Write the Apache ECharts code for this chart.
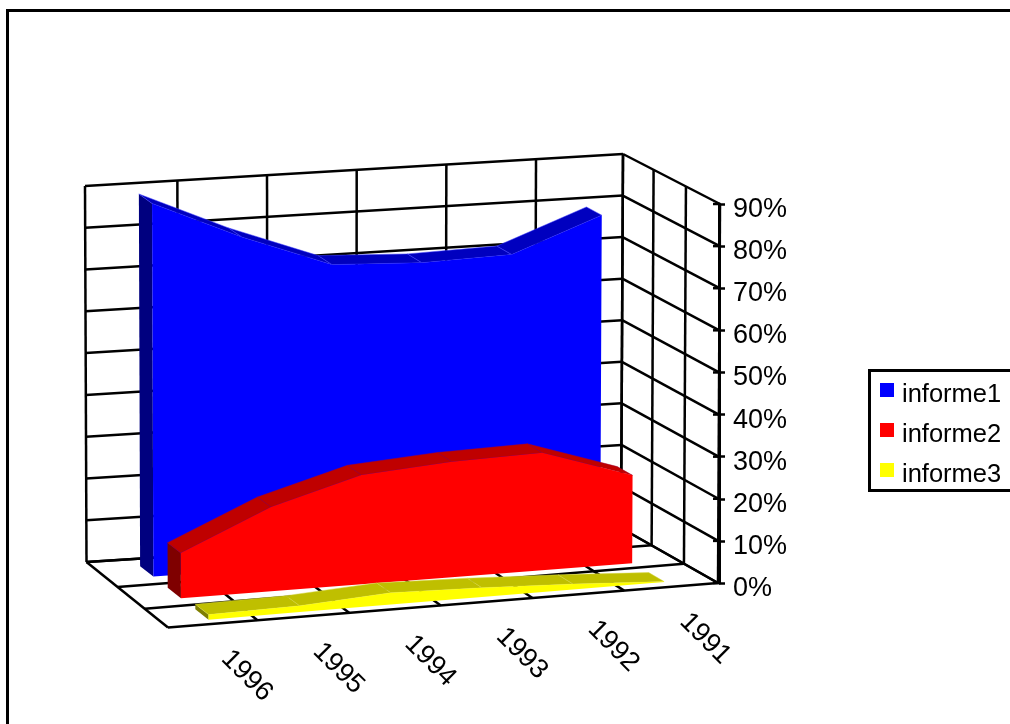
<!DOCTYPE html>
<html>
<head>
<meta charset="utf-8">
<script src="https://cdn.jsdelivr.net/npm/echarts@6/dist/echarts.min.js"></script>
<style>html,body{margin:0;padding:0;background:#fff}#c{width:1010px;height:724px}</style>
</head>
<body>
<div id="c"></div>
<script>
// --- data ---
var categories = ['1996', '1995', '1994', '1993', '1992', '1991'];
var informe1 = [89, 79.5, 71.5, 70.5, 71, 79];
var informe2 = [10.7, 20, 26, 27.5, 28, 21];
var informe3 = [1.2, 1.5, 2.8, 2.2, 1.3, 0.1];
var valueTicks = [0, 10, 20, 30, 40, 50, 60, 70, 80, 90];
var depthSlots = 3;

// --- projection of the 3D box: (c along years, f up the values, d towards viewer) ---
var FONT = '"Liberation Sans", Arial, sans-serif';
var BOX = {
  blb: [86.5, 562], blt: [85, 186], brb: [621, 528], brt: [623, 154],
  flb: [168, 627.5], flt: [166, 246], frb: [718, 583], frt: [720, 204]
};
function mix(a, b, t) { return [a[0] + (b[0] - a[0]) * t, a[1] + (b[1] - a[1]) * t]; }
function project(c, f, d) {
  var back = mix(mix(BOX.blb, BOX.brb, c), mix(BOX.blt, BOX.brt, c), f);
  var front = mix(mix(BOX.flb, BOX.frb, c), mix(BOX.flt, BOX.frt, c), f);
  return mix(back, front, d);
}
// small perspective corrections, one for the gridded box and one for the area slabs
function projectWall(c, f, d) {
  var d2 = d + 4 * d * (1 - d) * (0.055 * (1 - c) - 0.02 * c);
  var bump = Math.min(1, 6 * c, 6 * (1 - c));
  var c2 = c + bump * ((1 - d) * 0.005 - d * 0.004);
  return project(c2, f, d2);
}
function projectArea(c, f, d) { return project(c, f, d + 0.025 * (1 - c)); }
function norm(params, api, i, v) {
  var p = api.coord([i, v]), r = params.coordSys;
  return { c: (p[0] - r.x) / r.width, f: (r.y + r.height - p[1]) / r.height };
}
function segment(a, b, w) {
  return { type: 'line', shape: { x1: a[0], y1: a[1], x2: b[0], y2: b[1] },
    style: { stroke: '#000', lineWidth: w || 2.5 } };
}
function renderWalls(params, api) {
  var kids = [], n = categories.length, k, j;
  var fOf = function (v) { return norm(params, api, 0, v).f; };
  valueTicks.forEach(function (v) {
    var f = fOf(v);
    kids.push(segment(projectWall(0, f, 0), projectWall(1, f, 0)));
    kids.push(segment(projectWall(1, f, 0), projectWall(1, f, 1)));
  });
  var top = fOf(valueTicks[valueTicks.length - 1]), bottom = fOf(valueTicks[0]);
  for (k = 0; k <= n; k++) {
    kids.push(segment(projectWall(k / n, bottom, 0), projectWall(k / n, top, 0)));
    kids.push(segment(projectWall(k / n, bottom, 0), projectWall(k / n, bottom, 1)));
  }
  for (j = 0; j <= depthSlots; j++) {
    kids.push(segment(projectWall(1, bottom, j / depthSlots), projectWall(1, top, j / depthSlots)));
    kids.push(segment(projectWall(0, bottom, j / depthSlots), projectWall(1, bottom, j / depthSlots)));
  }
  // inner half of the value-axis ticks
  valueTicks.forEach(function (v) {
    var p = api.coord([n - 1, v]), r = params.coordSys;
    kids.push(segment([r.x + r.width - 6, p[1]], [r.x + r.width, p[1]]));
  });
  // year labels under the front edge
  categories.forEach(function (name, i) {
    var q = norm(params, api, i, valueTicks[0]);
    var e = project(q.c, q.f, 1);
    kids.push({ type: 'text', x: e[0] + 33, y: e[1] + 52, rotation: -Math.PI / 4,
      style: { text: name, font: '27px ' + FONT, fill: '#000', align: 'center', verticalAlign: 'middle' } });
  });
  return { type: 'group', children: kids };
}
function areaRenderer(values, slot, colors) {
  var d0 = (slot + 0.5) / depthSlots - 0.08, d1 = (slot + 0.5) / depthSlots + 0.08;
  return function (params, api) {
    var i = params.dataIndex, kids = [];
    var a = norm(params, api, api.value(0), api.value(1));
    var z = norm(params, api, api.value(0), 0);
    if (i === 0) {
      kids.push({ type: 'polygon', shape: { points: [
        projectArea(a.c, z.f, d0), projectArea(a.c, a.f, d0), projectArea(a.c, a.f, d1), projectArea(a.c, z.f, d1)
      ] }, style: { fill: colors.side } });
    }
    if (i < values.length - 1) {
      var b = norm(params, api, i + 1, values[i + 1]);
      kids.push({ type: 'polygon', shape: { points: [
        projectArea(a.c, a.f, d0), projectArea(b.c, b.f, d0), projectArea(b.c, b.f, d1), projectArea(a.c, a.f, d1)
      ] }, style: { fill: colors.top, stroke: colors.seam, lineWidth: 0.5 } });
    } else {
      var pts = [], t;
      for (t = 0; t < values.length; t++) {
        var n0 = norm(params, api, t, values[t]);
        pts.push(projectArea(n0.c, n0.f, d1));
      }
      for (t = values.length - 1; t >= 0; t--) {
        var n1 = norm(params, api, t, 0);
        pts.push(projectArea(n1.c, n1.f, d1));
      }
      kids.push({ type: 'polygon', shape: { points: pts }, style: { fill: colors.face } });
    }
    return { type: 'group', children: kids };
  };
}
function rows(values) { return values.map(function (v, i) { return [i, v]; }); }
function areaSeries(name, values, slot, colors) {
  return { name: name, type: 'custom', coordinateSystem: 'cartesian2d', clip: false, silent: true,
    itemStyle: { color: colors.face }, data: rows(values), renderItem: areaRenderer(values, slot, colors),
    encode: { x: 0, y: 1 } };
}

var chart = echarts.init(document.getElementById('c'), null, { renderer: 'canvas' });
chart.setOption({
  animation: false,
  backgroundColor: '#fff',
  textStyle: { fontFamily: FONT },
  grid: { left: 168, top: 204, width: 551, height: 379 },
  xAxis: { type: 'category', data: categories, show: false, boundaryGap: true },
  yAxis: {
    type: 'value', position: 'right', min: 0, max: 90, interval: 10,
    axisLine: { show: true, lineStyle: { color: '#000', width: 3 } },
    axisTick: { show: true, length: 6, lineStyle: { color: '#000', width: 2.5 } },
    splitLine: { show: false },
    axisLabel: { show: true, margin: 14, color: '#000', fontSize: 27, fontFamily: FONT,
      formatter: '{v|{value}%}',
      rich: { v: { fontSize: 27, fontFamily: FONT, color: '#000', padding: [11, 0, 0, 0] } } }
  },
  legend: {
    data: ['informe1', 'informe2', 'informe3'], orient: 'vertical', left: 880, top: 382,
    padding: 0, itemWidth: 14, itemHeight: 14, itemGap: 14, icon: 'rect', selectedMode: false,
    formatter: '{t|{name}}',
    textStyle: { color: '#000', fontSize: 25.5, fontFamily: FONT,
      rich: { t: { fontSize: 25.5, fontFamily: FONT, color: '#000', padding: [10, 0, 0, 3] } } }
  },
  graphic: [
    { type: 'rect', z: 100, silent: true, shape: { x: 7.5, y: 10.5, width: 1100, height: 1000 },
      style: { fill: 'none', stroke: '#000', lineWidth: 3 } },
    { type: 'rect', z: 100, silent: true, shape: { x: 869.5, y: 370.5, width: 200, height: 120 },
      style: { fill: 'none', stroke: '#000', lineWidth: 3 } }
  ],
  series: [
    { name: 'walls', type: 'custom', coordinateSystem: 'cartesian2d', clip: false, silent: true,
      data: [[0, 0]], renderItem: renderWalls, encode: { x: 0, y: 1 } },
    areaSeries('informe1', informe1, 0, { face: '#0000ff', top: '#0000bf', side: '#00007f', seam: '#3c3cff' }),
    areaSeries('informe2', informe2, 1, { face: '#ff0000', top: '#bf0000', side: '#7f0000', seam: '#a00030' }),
    areaSeries('informe3', informe3, 2, { face: '#ffff00', top: '#bfbf00', side: '#7f7f00', seam: '#d4d440' })
  ]
});
</script>
</body>
</html>
